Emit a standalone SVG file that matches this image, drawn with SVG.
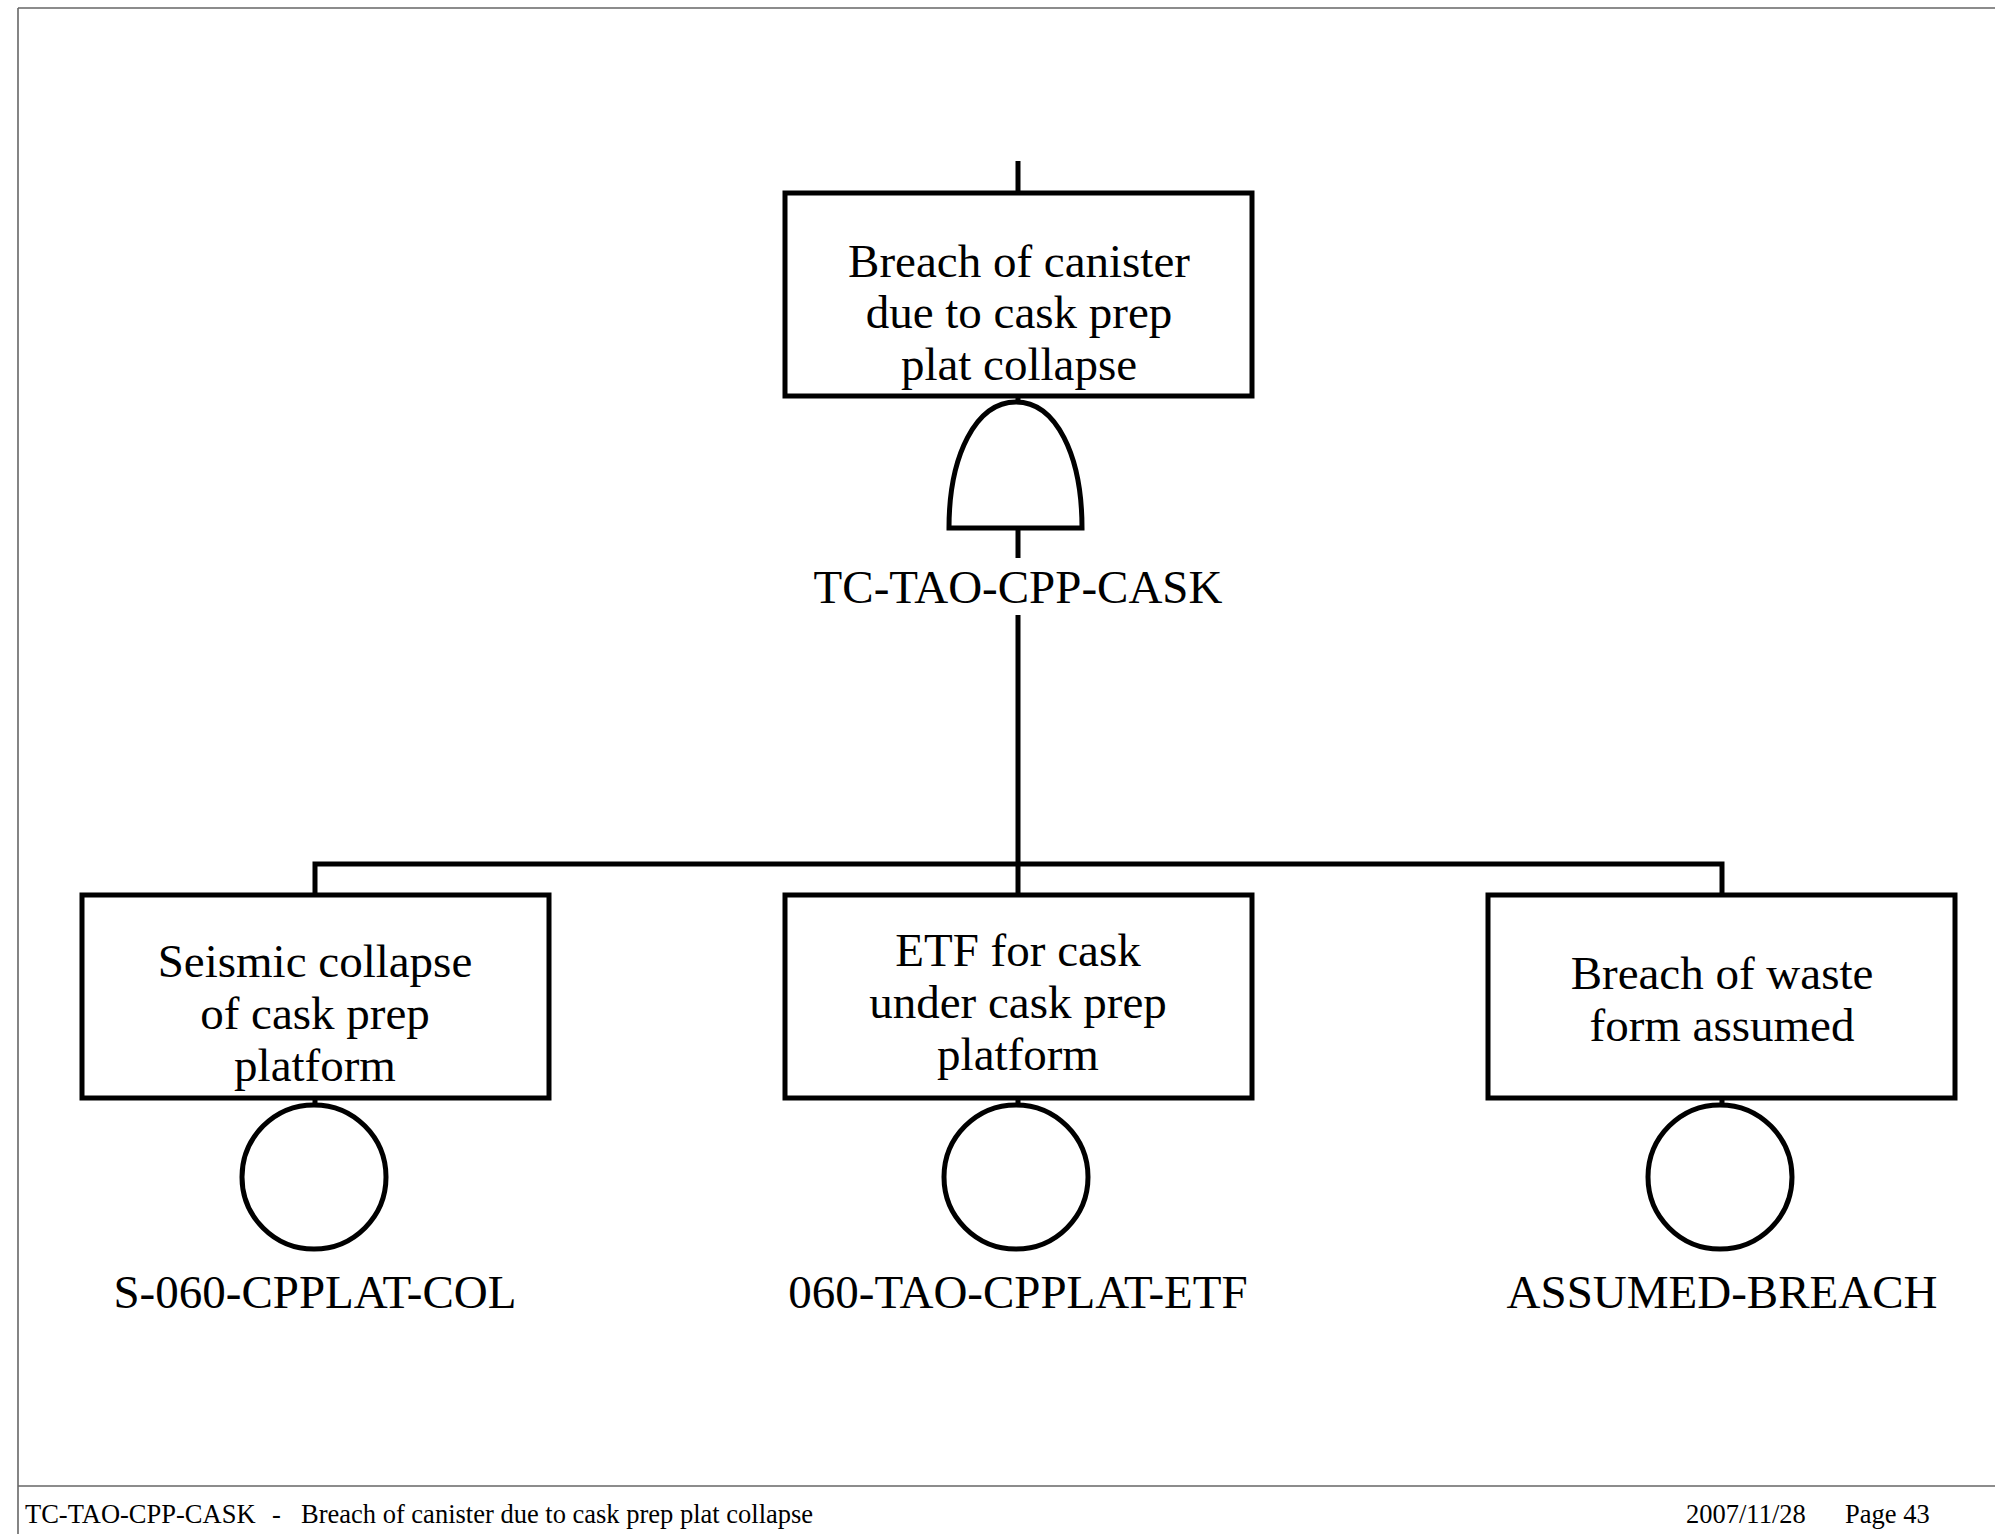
<svg xmlns="http://www.w3.org/2000/svg" width="1995" height="1534" viewBox="0 0 1995 1534">
<style>
.frame{stroke:#666;stroke-width:1.6;fill:none}
.shape{fill:#fff;stroke:#000;stroke-width:5}
.conn{stroke:#000;stroke-width:5;fill:none;stroke-linecap:butt}
.t{font-family:"Liberation Serif","Times New Roman",serif;font-size:47px;fill:#000;text-anchor:middle}
.f{font-family:"Liberation Serif","Times New Roman",serif;font-size:26.5px;fill:#000}
</style>
<rect width="1995" height="1534" fill="#fff"/>
<g id="frame">
<line class="frame" x1="18" y1="8" x2="1995" y2="8"/>
<line class="frame" x1="18" y1="8" x2="18" y2="1534"/>
<line class="frame" x1="18" y1="1486" x2="1995" y2="1486"/>
</g>
<g id="connectors">
<line class="conn" x1="1018" y1="161" x2="1018" y2="194"/>
<line class="conn" x1="1018" y1="394" x2="1018" y2="404"/>
<line class="conn" x1="1018" y1="527" x2="1018" y2="558"/>
<line class="conn" x1="1018" y1="615" x2="1018" y2="864"/>
<polyline class="conn" points="315,896 315,864 1722,864 1722,896"/>
<line class="conn" x1="1018" y1="864" x2="1018" y2="896"/>
<line class="conn" x1="315" y1="1096" x2="315" y2="1106"/>
<line class="conn" x1="1018" y1="1096" x2="1018" y2="1106"/>
<line class="conn" x1="1722" y1="1096" x2="1722" y2="1106"/>
</g>
<g id="top-event">
<rect class="shape" x="785" y="193" width="467" height="203"/>
<text class="t" x="1019" y="277">Breach of canister</text>
<text class="t" x="1019" y="328">due to cask prep</text>
<text class="t" x="1019" y="380">plat collapse</text>
</g>
<g id="and-gate">
<path class="shape" d="M949,528 C949,455 976,402 1016,402 C1056,402 1082,455 1082,528 Z"/>
<text class="t" x="1018" y="603">TC-TAO-CPP-CASK</text>
</g>
<g id="seismic">
<rect class="shape" x="82" y="895" width="467" height="203"/>
<text class="t" x="315" y="977">Seismic collapse</text>
<text class="t" x="315" y="1029">of cask prep</text>
<text class="t" x="315" y="1081">platform</text>
<circle class="shape" cx="314" cy="1177" r="72"/>
<text class="t" x="315" y="1308">S-060-CPPLAT-COL</text>
</g>
<g id="etf">
<rect class="shape" x="785" y="895" width="467" height="203"/>
<text class="t" x="1018" y="966">ETF for cask</text>
<text class="t" x="1018" y="1018">under cask prep</text>
<text class="t" x="1018" y="1070">platform</text>
<circle class="shape" cx="1016" cy="1177" r="72"/>
<text class="t" x="1018" y="1308">060-TAO-CPPLAT-ETF</text>
</g>
<g id="assumed">
<rect class="shape" x="1488" y="895" width="467" height="203"/>
<text class="t" x="1722" y="989">Breach of waste</text>
<text class="t" x="1722" y="1041">form assumed</text>
<circle class="shape" cx="1720" cy="1177" r="72"/>
<text class="t" x="1722" y="1308">ASSUMED-BREACH</text>
</g>
<g id="footer">
<text class="f" x="25" y="1523">TC-TAO-CPP-CASK</text>
<text class="f" x="272" y="1523">-</text>
<text class="f" x="301" y="1523">Breach of canister due to cask prep plat collapse</text>
<text class="f" x="1686" y="1523">2007/11/28</text>
<text class="f" x="1845" y="1523">Page 43</text>
</g>
</svg>
